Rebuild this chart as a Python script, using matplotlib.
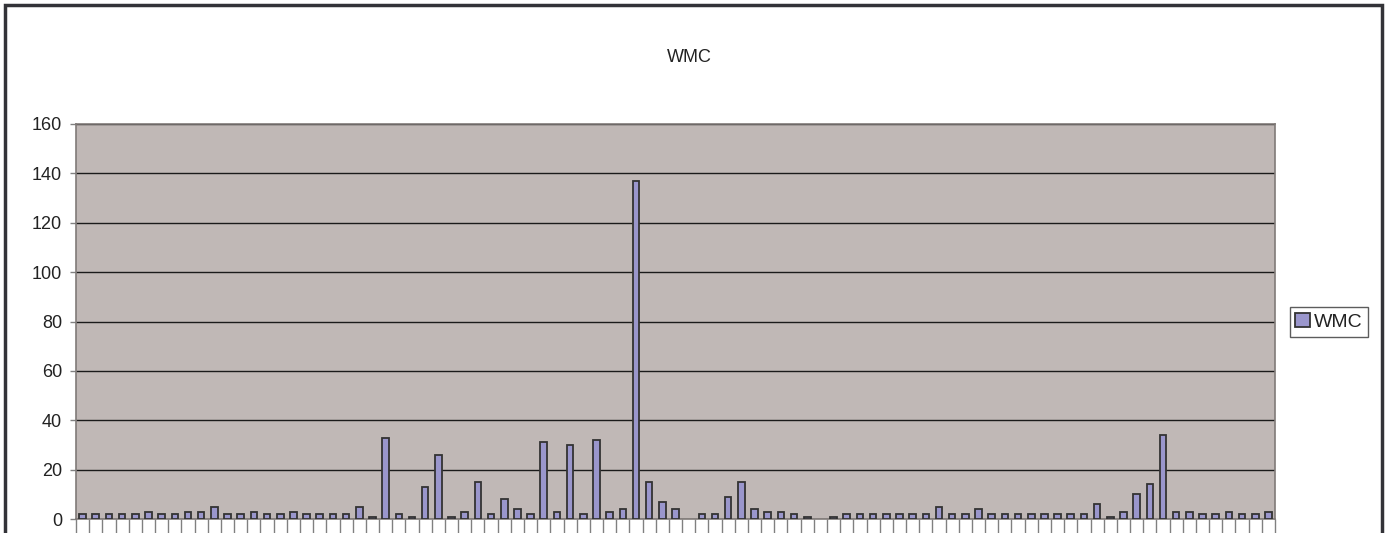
import matplotlib
matplotlib.use("Agg")
import matplotlib.pyplot as plt
import numpy as np
from matplotlib.patches import Rectangle

wmc = [2, 2, 2, 2, 2, 3, 2, 2, 3, 3, 5, 2, 2, 3, 2, 2, 3, 2, 2, 2,
       2, 5, 1, 33, 2, 1, 13, 26, 1, 3, 15, 2, 8, 4, 2, 31, 3, 30, 2, 32,
       3, 4, 137, 15, 7, 4, 0, 2, 2, 9, 15, 4, 3, 3, 2, 1, 0, 1, 2, 2,
       2, 2, 2, 2, 2, 5, 2, 2, 4, 2, 2, 2, 2, 2, 2, 2, 2, 6, 1, 3,
       10, 14, 34, 3, 3, 2, 2, 3, 2, 2, 3]
y_ticks = [0, 20, 40, 60, 80, 100, 120, 140, 160]
title = "WMC"

plt.rcParams['font.family'] = ['Liberation Sans', 'DejaVu Sans']

W, H = 1389, 533
fig = plt.figure(figsize=(W / 100, H / 100), dpi=100)
ax = fig.add_axes([76 / W, (H - 519) / H, (1275 - 76) / W, (519 - 124) / H])
ax.set_facecolor('#c0b8b6')

x = np.arange(len(wmc))
bars = ax.bar(x, wmc, width=0.5, color='#9a96cc', edgecolor='#333333',
              linewidth=1.3, label='WMC', zorder=3)
# empty categories get no outline
for b, v in zip(bars, wmc):
    if v == 0:
        b.set_visible(False)

ax.set_xlim(-0.5, len(wmc) - 0.5)
ax.set_ylim(0, 160)
ax.set_yticks(y_ticks)
ax.set_yticklabels([str(v) for v in y_ticks], fontsize=13, color='#222222')
ax.set_xticks(np.arange(len(wmc) + 1) - 0.5)
ax.set_xticklabels([])
ax.tick_params(axis='x', length=10, width=1, color='#808080', direction='out')
ax.tick_params(axis='y', length=4, width=1, color='#808080', pad=6)
ax.grid(axis='y', color='#1a1a1a', linewidth=1, zorder=1)
for s in ax.spines.values():
    s.set_color('#807a78')
    s.set_linewidth(1.2)

fig.text(689 / W, 1 - 57 / H, title, ha='center', va='center', fontsize=13,
         color='#222222')

leg = fig.legend(loc='center', bbox_to_anchor=(1329 / W, 1 - 322 / H),
                 fontsize=14, frameon=True, fancybox=False, handlelength=0.75,
                 handleheight=0.75, handletextpad=0.2, borderpad=0.3,
                 labelcolor='#222222')
leg.get_frame().set_edgecolor('#333333')
leg.get_frame().set_linewidth(1)

# outer chart frame
fig.patches.append(Rectangle((4.5 / W, -0.1), (1382 - 4.5) / W, 1.1 - 5.5 / H,
                             transform=fig.transFigure, fill=False,
                             edgecolor='#333338', linewidth=2.5))

fig.savefig('out.png', dpi=100)
